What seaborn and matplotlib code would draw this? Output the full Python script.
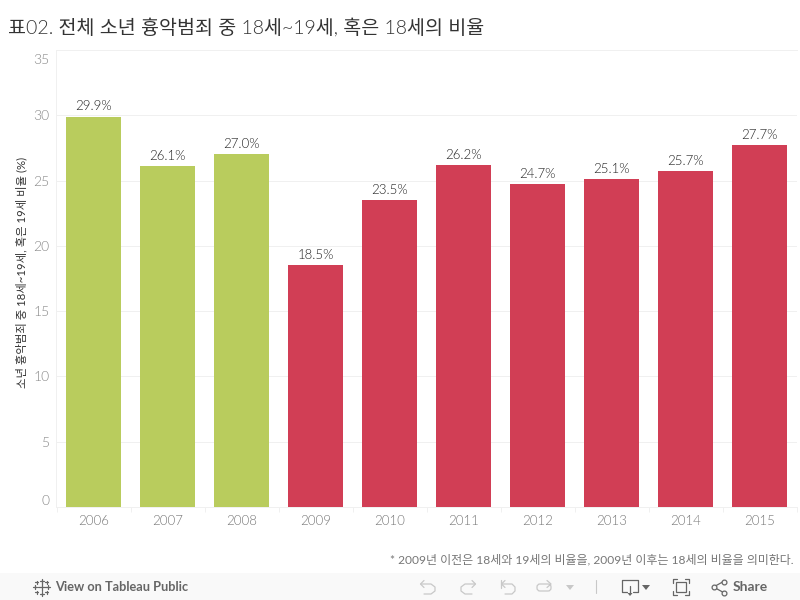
import matplotlib
matplotlib.use("Agg")
import matplotlib.pyplot as plt
import pandas as pd
import seaborn as sns
from matplotlib.patches import Rectangle, FancyBboxPatch
from matplotlib.transforms import ScaledTranslation

years = ["2006", "2007", "2008", "2009", "2010", "2011", "2012", "2013", "2014", "2015"]
ratios = [29.9, 26.1, 27.0, 18.5, 23.5, 26.2, 24.7, 25.1, 25.7, 27.7]
groups = ["old", "old", "old", "new", "new", "new", "new", "new", "new", "new"]
yticks = [0, 5, 10, 15, 20, 25, 30, 35]

title = "표02. 전체 소년 흉악범죄 중 18세~19세, 혹은 18세의 비율"
ylabel = "소년 흉악범죄 중 18세~19세, 혹은 19세 비율 (%)"
note = "* 2009년 이전은 18세와 19세의 비율을, 2009년 이후는 18세의 비율을 의미한다."

sns.set_theme(style="white")
plt.rcParams["font.family"] = ["Lato", "Noto Sans CJK KR", "DejaVu Sans"]

df = pd.DataFrame({"year": years, "ratio": ratios, "group": groups})
line_col = "#f0f0f0"

fig = plt.figure(figsize=(8, 6), dpi=100)
ax = fig.add_axes([56.5 / 800, 1 - 507 / 600, 740 / 800, 457 / 600])
sns.barplot(data=df, x="year", y="ratio", hue="group", order=years,
            palette={"old": "#b9cc5d", "new": "#d13e55"}, dodge=False,
            width=55 / 74, saturation=1, legend=False, linewidth=0, ax=ax)
ax.set_xlim(-0.5, 9.5)
ax.set_ylim(0, 35)
ax.set_yticks(yticks)
ax.set_axisbelow(True)
ax.yaxis.grid(True, color=line_col, lw=0.72)
ax.xaxis.grid(False)
ax.set_xlabel("")
ax.set_ylabel("")
for s in ax.spines.values():
    s.set_color(line_col)
    s.set_linewidth(0.72)
ax.spines["right"].set_visible(False)

ax.set_xticks([i - 0.5 for i in range(11)], minor=True)
ax.tick_params(axis="x", which="minor", length=3.6, width=0.72, color=line_col, bottom=True)
ax.tick_params(axis="x", which="major", length=0, pad=6, labelsize=9.5, labelcolor="#777777")
ax.tick_params(axis="y", length=3.6, width=0.72, color=line_col, pad=1.5, labelsize=10, labelcolor="#888888")
for lab in ax.get_xticklabels() + ax.get_yticklabels():
    lab.set_fontweight(300)
labs = ax.get_yticklabels()
labs[0].set_va("bottom")
labs[-1].set_va("top")
labs[-1].set_transform(labs[-1].get_transform() + ScaledTranslation(0, -4 / 100, fig.dpi_scale_trans))

for c in ax.containers:
    ax.bar_label(c, fmt="%.1f%%", padding=3, fontsize=9.5, color="#222222", fontweight=300)

fig.text(8 / 800, 1 - 27 / 600, title, fontsize=14.05, color="#333333", va="center", ha="left", weight=300)
fig.text(21 / 800, 1 - 272 / 600, ylabel, rotation=90, fontsize=8.2, color="#333333", va="center", ha="center")
fig.text(794 / 800, 1 - 560 / 600, note, fontsize=8.65, color="#777777", va="center", ha="right")

# toolbar at the bottom
ov = fig.add_axes([0, 0, 1, 1], zorder=-1)
ov.set_xlim(0, 800)
ov.set_ylim(600, 0)
ov.axis("off")
ov.add_patch(Rectangle((0, 573), 800, 27, color="#f9f9f9", lw=0))

tool = "#666666"
pale = "#c8c8c8"
for x, y, n in [(41.5, 587, 8), (35, 587, 4), (48, 587, 4), (41.5, 580.5, 4), (41.5, 593.5, 4),
                (36.5, 582, 3), (46.5, 582, 3), (36.5, 592, 3), (46.5, 592, 3)]:
    ov.plot([x - n / 2, x + n / 2], [y, y], color=tool, lw=0.9)
    ov.plot([x, x], [y - n / 2, y + n / 2], color=tool, lw=0.9)
ov.text(55, 587, "View on Tableau Public", fontsize=9.2, color=tool, va="center", weight="bold")

# undo, redo, reset, refresh
ov.plot([421, 431, 435, 435, 431, 424], [584, 584, 587, 591, 594, 594], color=pale, lw=0.9)
ov.plot([424, 420.5, 424], [580.5, 584, 587.5], color=pale, lw=0.9)
ov.plot([475, 465, 461, 461, 465, 472], [584, 584, 587, 591, 594, 594], color=pale, lw=0.9)
ov.plot([472, 475.5, 472], [580.5, 584, 587.5], color=pale, lw=0.9)
ov.plot([502, 512, 515, 515, 512, 505], [584, 584, 587, 591, 594, 594], color=pale, lw=0.9)
ov.plot([505, 501.5, 505], [580.5, 584, 587.5], color=pale, lw=0.9)
ov.plot([501, 501], [580, 588], color=pale, lw=0.9)
ov.add_patch(FancyBboxPatch((537, 584), 14, 7, boxstyle="round,pad=0,rounding_size=3", fc="none", ec=pale, lw=0.9))
ov.plot([547, 551, 547], [580.5, 584, 587.5], color=pale, lw=0.9)
ov.fill([566, 574, 570], [585, 585, 590], color=pale, lw=0)
ov.plot([595.5, 595.5], [580, 593], color=pale, lw=0.8)

# download
ov.plot([627, 622, 622, 638, 638, 633], [592, 592, 580, 580, 592, 592], color=tool, lw=0.9)
ov.plot([630, 630], [586, 594], color=tool, lw=0.9)
ov.fill([627.5, 632.5, 630], [593, 593, 596], color=tool, lw=0)
ov.fill([642, 650, 646], [585, 585, 590], color=tool, lw=0)

# full screen
ov.add_patch(Rectangle((676, 582), 10, 10, fc="none", ec=tool, lw=0.9))
for xs, ys in [([673, 673, 677], [583, 579, 579]), ([685, 689, 689], [579, 579, 583]),
               ([673, 673, 677], [591, 595, 595]), ([685, 689, 689], [595, 595, 591])]:
    ov.plot(xs, ys, color=tool, lw=0.9)

# share
ov.plot([723.5, 713.5, 723.5], [581.5, 587, 592.5], color=tool, lw=0.9)
ov.scatter([723.5, 713.5, 723.5], [581.5, 587, 592.5], s=12, fc="#f9f9f9", ec=tool, lw=0.9, zorder=3)
ov.text(733, 587, "Share", fontsize=10, color=tool, va="center", weight="bold")

fig.savefig("out.png", dpi=100)
